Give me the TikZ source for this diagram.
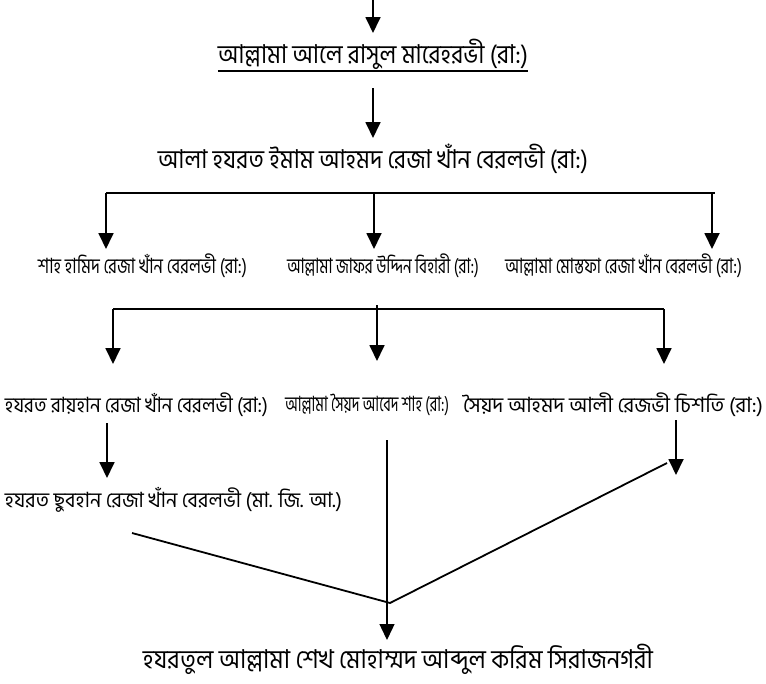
\documentclass[tikz,border=0pt]{standalone}
\usepackage{fontspec}
\usepackage{graphicx}
\usetikzlibrary{arrows.meta}
\newfontfamily\bn[Script=Bengali]{Hind Siliguri}
\newcommand{\fitto}[2]{\resizebox{#1}{\height}{#2}}
\begin{document}
\begin{tikzpicture}[x=1pt,y=-1pt,
  lbl/.style={inner sep=0pt, anchor=center},
  big/.style={lbl, font=\bn\fontsize{26}{28}\selectfont},
  small/.style={lbl, font=\bn\fontsize{21}{23}\selectfont},
  ln/.style={line width=1.8pt},
  thinln/.style={line width=1.4pt},
  arr/.style={ln, -{Triangle[width=15pt,length=16pt]}},
  thinarr/.style={thinln, -{Triangle[width=15pt,length=16pt]}},
  uline/.style={line width=1.1pt}
]
\useasboundingbox (0,0) rectangle (766,683);
% texts
\node[big] (t1) at (373,54) {\fitto{310pt}{আল্লামা আলে রাসুল মারেহরভী (রা:)}};
\node[big] (t2) at (373,159) {\fitto{430pt}{আলা হযরত ইমাম আহমদ রেজা খাঁন বেরলভী (রা:)}};
\node[small] (r3a) at (142.5,266) {\fitto{209pt}{শাহ হামিদ রেজা খাঁন বেরলভী (রা:)}};
\node[small] (r3b) at (383,266) {\fitto{192pt}{আল্লামা জাফর উদ্দিন বিহারী (রা:)}};
\node[small] (r3c) at (623.5,266) {\fitto{237pt}{আল্লামা মোস্তফা রেজা খাঁন বেরলভী (রা:)}};
\node[small] (r4a) at (136.5,405) {\fitto{263pt}{হযরত রায়হান রেজা খাঁন বেরলভী (রা:)}};
\node[small] (r4b) at (367,405) {\fitto{164pt}{আল্লামা সৈয়দ আবেদ শাহ (রা:)}};
\node[small] (r4c) at (613,405) {\fitto{300pt}{সৈয়দ আহমদ আলী রেজভী চিশতি (রা:)}};
\node[small] (r5) at (173.5,500) {\fitto{337pt}{হযরত ছুবহান রেজা খাঁন বেরলভী (মা. জি. আ.)}};
\node[big] (bt) at (398,659) {\fitto{510pt}{হযরতুল আল্লামা শেখ মোহাম্মদ আব্দুল করিম সিরাজনগরী}};
% underline
\coordinate (ul) at (0,71);
\draw[uline] (t1.west |- ul) -- (t1.east |- ul);
% coordinates
\coordinate (a0s) at (373,0);   \coordinate (a0e) at (373,33);
\coordinate (a1s) at (373,88);  \coordinate (a1e) at (373,138);
\coordinate (b1l) at (106,193); \coordinate (b1r) at (715,193);
\coordinate (b1m) at (374,193);
\coordinate (b1le) at (106,249); \coordinate (b1me) at (374,249); \coordinate (b1re) at (712,249);
\coordinate (b1rt) at (712,193);
\coordinate (b2l) at (113,309); \coordinate (b2r) at (664,309);
\coordinate (b2ms) at (377,305);
\coordinate (b2le) at (113,364); \coordinate (b2me) at (377,361); \coordinate (b2re) at (664,364);
\coordinate (c1s) at (107,423); \coordinate (c1e) at (107,478);
\coordinate (c3s) at (676,420); \coordinate (c3e) at (676,475);
\coordinate (c2s) at (387,440); \coordinate (c2e) at (387,640);
\coordinate (s1) at (132,533); \coordinate (sj) at (390,603); \coordinate (s2) at (667,463);
% connectors
\draw[arr] (a0s) -- (a0e);
\draw[arr] (a1s) -- (a1e);
\draw[ln] (b1l) -- (b1r);
\draw[arr] (b1l) -- (b1le);
\draw[arr] (b1m) -- (b1me);
\draw[arr] (b1rt) -- (b1re);
\draw[ln] (b2l) -- (b2r);
\draw[arr] (b2l) -- (b2le);
\draw[arr] (b2ms) -- (b2me);
\draw[arr] (b2r) -- (b2re);
\draw[arr] (c1s) -- (c1e);
\draw[arr] (c3s) -- (c3e);
\draw[thinarr] (c2s) -- (c2e);
\draw[ln] (s1) -- (sj) -- (s2);
\end{tikzpicture}
\end{document}
